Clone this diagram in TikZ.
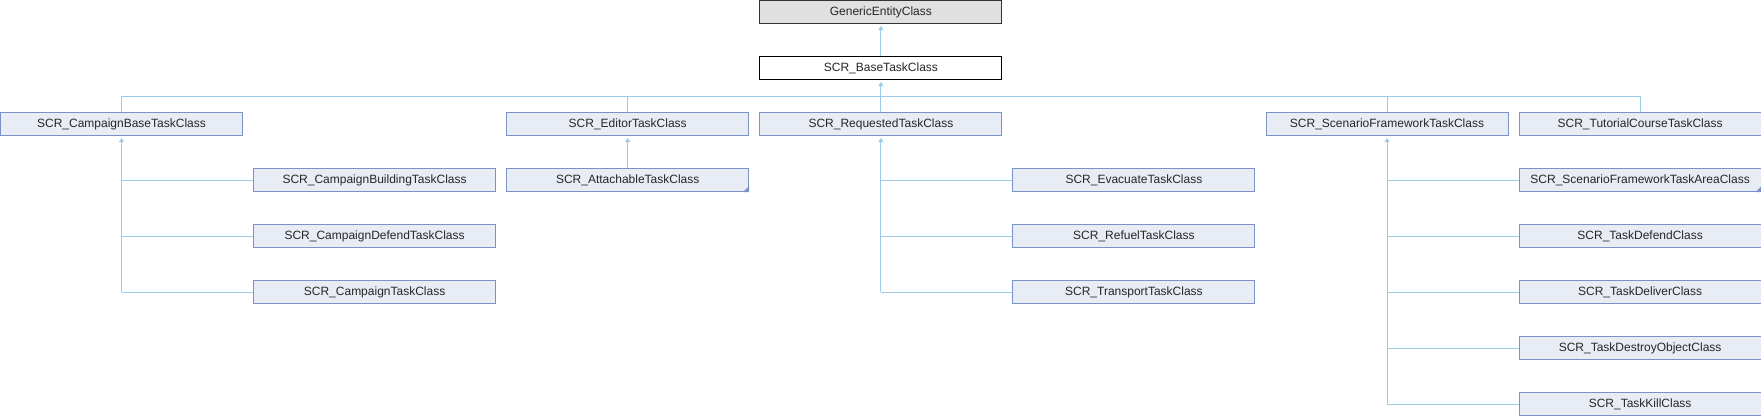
\documentclass[tikz,border=0pt]{standalone}
\usepackage{fontspec}
\setmainfont{Liberation Sans}
\usetikzlibrary{arrows.meta}
\definecolor{boxfill}{RGB}{232,236,245}
\definecolor{boxdraw}{RGB}{122,146,200}
\definecolor{linecol}{RGB}{156,202,234}
\definecolor{grayfill}{RGB}{224,224,224}
\tikzset{
  cls/.style={draw=boxdraw, fill=boxfill, line width=1pt, minimum width=242pt, minimum height=23pt, inner sep=0pt, font=\fontsize{12}{14}\selectfont, text=black!85},
  topcls/.style={cls, draw=black!80, fill=grayfill},
  basecls/.style={cls, draw=black, fill=white},
  conn/.style={draw=linecol, line width=1pt},
  inh/.style={conn, {Triangle[width=5pt,length=4pt]}-, shorten <=2pt},
  more/.style={fill=boxdraw}
}
\begin{document}
\begin{tikzpicture}[x=1pt,y=-1pt]
\useasboundingbox (0,0) rectangle (1761,416);
% columns: centre = 121.5 + 253.1*c ; rows: centre = 12 + 56*r
\node[topcls] (gen) at (880.9,12) {GenericEntityClass};
\node[basecls] (base) at (880.9,68) {SCR\_BaseTaskClass};
% row 1
\node[cls] (cbase) at (121.5,124) {SCR\_CampaignBaseTaskClass};
\node[cls] (ed) at (627.7,124) {SCR\_EditorTaskClass};
\node[cls] (req) at (880.9,124) {SCR\_RequestedTaskClass};
\node[cls] (sf) at (1387.0,124) {SCR\_ScenarioFrameworkTaskClass};
\node[cls] (tut) at (1640.1,124) {SCR\_TutorialCourseTaskClass};
% campaign children
\node[cls] (cbuild) at (374.6,180) {SCR\_CampaignBuildingTaskClass};
\node[cls] (cdef) at (374.6,236) {SCR\_CampaignDefendTaskClass};
\node[cls] (ctask) at (374.6,292) {SCR\_CampaignTaskClass};
% editor child
\node[cls] (att) at (627.7,180) {SCR\_AttachableTaskClass};
% requested children
\node[cls] (evac) at (1133.9,180) {SCR\_EvacuateTaskClass};
\node[cls] (refuel) at (1133.9,236) {SCR\_RefuelTaskClass};
\node[cls] (trans) at (1133.9,292) {SCR\_TransportTaskClass};
% scenario framework children
\node[cls] (sfarea) at (1640.1,180) {SCR\_ScenarioFrameworkTaskAreaClass};
\node[cls] (tdef) at (1640.1,236) {SCR\_TaskDefendClass};
\node[cls] (tdel) at (1640.1,292) {SCR\_TaskDeliverClass};
\node[cls] (tdes) at (1640.1,348) {SCR\_TaskDestroyObjectClass};
\node[cls] (tkill) at (1640.1,404) {SCR\_TaskKillClass};
% "more" corner marks
\fill[more] (att.south east) -- ++(-6,0) -- ++(6,-6) -- cycle;
\fill[more] (sfarea.south east) -- ++(-6,0) -- ++(6,-6) -- cycle;
% connectors
\coordinate (bus) at (0,96);
\draw[inh] (gen.south) -- (base.north);
\draw[inh] (base.south) -- (req.north);
\draw[conn] (cbase.north) -- (cbase.north |- bus) -- (tut.north |- bus) -- (tut.north);
\draw[conn] (ed.north) -- (ed.north |- bus);
\draw[conn] (sf.north) -- (sf.north |- bus);
% campaign base
\draw[inh] (cbase.south) -- (cbase.south |- ctask.west);
\draw[conn] (cbase.south |- cbuild.west) -- (cbuild.west);
\draw[conn] (cbase.south |- cdef.west) -- (cdef.west);
\draw[conn] (cbase.south |- ctask.west) -- (ctask.west);
% editor
\draw[inh] (ed.south) -- (att.north);
% requested
\draw[inh] (req.south) -- (req.south |- trans.west);
\draw[conn] (req.south |- evac.west) -- (evac.west);
\draw[conn] (req.south |- refuel.west) -- (refuel.west);
\draw[conn] (req.south |- trans.west) -- (trans.west);
% scenario framework
\draw[inh] (sf.south) -- (sf.south |- tkill.west);
\draw[conn] (sf.south |- sfarea.west) -- (sfarea.west);
\draw[conn] (sf.south |- tdef.west) -- (tdef.west);
\draw[conn] (sf.south |- tdel.west) -- (tdel.west);
\draw[conn] (sf.south |- tdes.west) -- (tdes.west);
\draw[conn] (sf.south |- tkill.west) -- (tkill.west);
\end{tikzpicture}
\end{document}
